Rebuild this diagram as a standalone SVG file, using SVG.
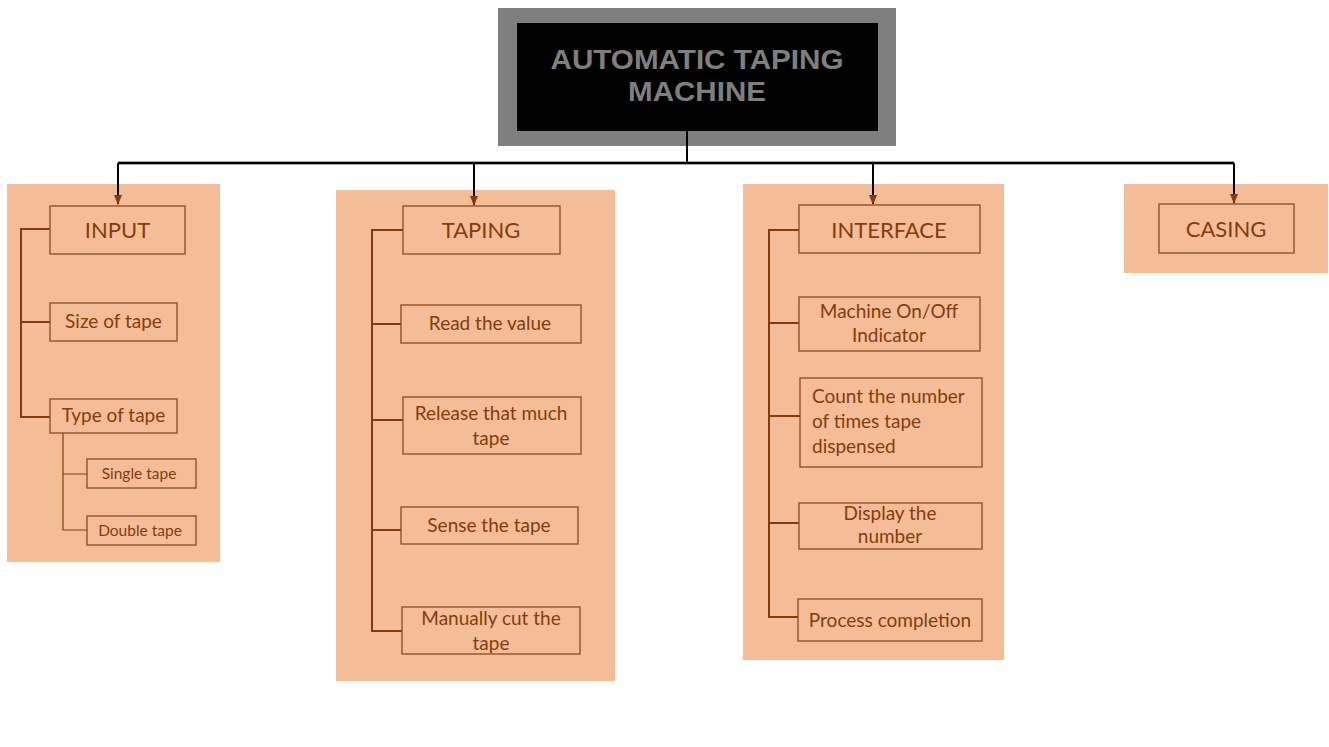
<svg xmlns="http://www.w3.org/2000/svg" width="1329" height="747" viewBox="0 0 1329 747">
<style>
.panel{fill:#f5bd97}
.box{fill:none;stroke:#8a4a23;stroke-width:1.3}
.t{font-family:Lato,"Liberation Sans",sans-serif;fill:#843c0c;text-anchor:middle}
.l{text-anchor:start}
.h{font-size:22px}
.m{font-size:19px}
.s{font-size:15.5px}
.br{fill:none;stroke:#843c0c;stroke-width:2}
.br1{fill:none;stroke:#843c0c;stroke-width:1.2}
.c{fill:none;stroke:#000;stroke-width:2}
.tt{font-family:"Liberation Sans",Arial,sans-serif;font-weight:bold;font-size:28px;fill:#7f7f7f;text-anchor:middle}
</style>
<defs>
<marker id="ah" markerWidth="10" markerHeight="8" refX="9" refY="4" orient="auto" markerUnits="userSpaceOnUse">
<path d="M0,0 L10,4 L0,8 Z" fill="#843c0c"/>
</marker>
</defs>
<rect width="1329" height="747" fill="#fff"/>

<g id="title">
<rect x="498" y="8" width="398" height="138" fill="#7f7f7f"/>
<rect x="517" y="23" width="361" height="108" fill="#000"/>
<text class="tt" x="697" y="69" textLength="293" lengthAdjust="spacingAndGlyphs">AUTOMATIC TAPING</text>
<text class="tt" x="697" y="101" textLength="138" lengthAdjust="spacingAndGlyphs">MACHINE</text>
</g>

<g id="panels">
<rect class="panel" x="7" y="184" width="213" height="378"/>
<rect class="panel" x="336" y="190" width="279" height="491"/>
<rect class="panel" x="743" y="184" width="261" height="476"/>
<rect class="panel" x="1124" y="184" width="204" height="89"/>
</g>

<g id="connectors">
<path class="c" d="M687,131 V163"/>
<path d="M118,163 H1234" stroke="#555" stroke-width="3" fill="none"/>
<path class="c" d="M118,163 H1234"/>
<path class="c" d="M118,163 V204" marker-end="url(#ah)"/>
<path class="c" d="M474,163 V205" marker-end="url(#ah)"/>
<path class="c" d="M873,163 V204" marker-end="url(#ah)"/>
<path class="c" d="M1234,163 V203" marker-end="url(#ah)"/>
<path class="br" d="M50,229 H21 V417 H50 M21,322 H50"/>
<path class="br1" d="M63,433 V530 H87 M63,474 H87"/>
<path class="br" d="M403,230 H372 V631 H402 M372,324 H401 M372,420 H403 M372,530 H401"/>
<path class="br" d="M799,230 H769 V617 H798 M769,323 H799 M769,416 H800 M769,523 H799"/>
</g>

<g id="input">
<rect class="box" x="50" y="206" width="135" height="48"/>
<text class="t h" x="117.5" y="238">INPUT</text>
</g>
<g id="size-of-tape">
<rect class="box" x="50" y="303" width="127" height="38"/>
<text class="t m" x="113.5" y="328">Size of tape</text>
</g>
<g id="type-of-tape">
<rect class="box" x="50" y="399" width="127" height="34"/>
<text class="t m" x="113.5" y="422">Type of tape</text>
</g>
<g id="single-tape">
<rect class="box" x="87" y="459" width="109" height="29"/>
<text class="t s" x="139" y="479">Single tape</text>
</g>
<g id="double-tape">
<rect class="box" x="87" y="516" width="109" height="29"/>
<text class="t s" x="140" y="536">Double tape</text>
</g>

<g id="taping">
<rect class="box" x="403" y="206" width="157" height="48"/>
<text class="t h" x="481" y="238">TAPING</text>
</g>
<g id="read-value">
<rect class="box" x="401" y="305" width="180" height="38"/>
<text class="t m" x="490" y="330">Read the value</text>
</g>
<g id="release-tape">
<rect class="box" x="403" y="397" width="178" height="57"/>
<text class="t m" x="491" y="420">Release that much</text>
<text class="t m" x="491" y="445">tape</text>
</g>
<g id="sense-tape">
<rect class="box" x="401" y="507" width="177" height="37"/>
<text class="t m" x="489" y="532">Sense the tape</text>
</g>
<g id="cut-tape">
<rect class="box" x="402" y="607" width="178" height="47"/>
<text class="t m" x="491" y="625">Manually cut the</text>
<text class="t m" x="491" y="650">tape</text>
</g>

<g id="interface">
<rect class="box" x="799" y="205" width="181" height="48"/>
<text class="t h" x="889" y="238">INTERFACE</text>
</g>
<g id="on-off">
<rect class="box" x="799" y="297" width="181" height="54"/>
<text class="t m" x="889" y="318">Machine On/Off</text>
<text class="t m" x="889" y="342">Indicator</text>
</g>
<g id="count">
<rect class="box" x="800" y="378" width="182" height="89"/>
<text class="t m l" x="812" y="403">Count the number</text>
<text class="t m l" x="812" y="428">of times tape</text>
<text class="t m l" x="812" y="453">dispensed</text>
</g>
<g id="display">
<rect class="box" x="799" y="503" width="183" height="46"/>
<text class="t m" x="890" y="520">Display the</text>
<text class="t m" x="890" y="543">number</text>
</g>
<g id="process">
<rect class="box" x="798" y="599" width="184" height="42"/>
<text class="t m" x="890" y="627">Process completion</text>
</g>

<g id="casing">
<rect class="box" x="1159" y="204" width="135" height="49"/>
<text class="t h" x="1226" y="237">CASING</text>
</g>
</svg>
